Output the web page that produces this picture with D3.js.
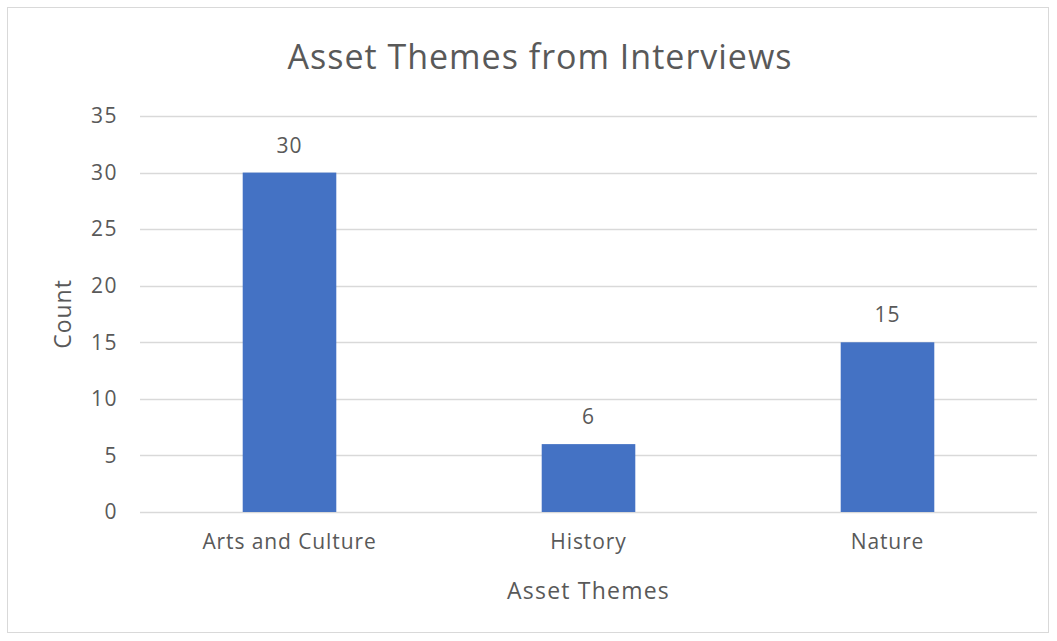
<!DOCTYPE html>
<html>
<head>
<meta charset="utf-8">
<script src="https://cdn.jsdelivr.net/npm/d3@7"></script>
<style>
  html, body { margin: 0; padding: 0; background: #fff; }
  svg { display: block; }
  text { font-family: "Open Sans", Lato, sans-serif; fill: #595959; }
</style>
</head>
<body>
<svg id="chart" width="1057" height="641"></svg>
<script>
// Asset theme counts
const categories = ["Arts and Culture", "History", "Nature"];
const counts = [30, 6, 15];
const yTicks = [0, 5, 10, 15, 20, 25, 30, 35];

const chartTitle = "Asset Themes from Interviews";
const xTitle = "Asset Themes";
const yTitle = "Count";

const svg = d3.select("#chart");
const W = 1057, H = 641;
const plot = { left: 140, right: 1037, top: 116, bottom: 512 };
const FONT = "'Open Sans', Lato, sans-serif";

// chart frame
svg.append("rect")
  .attr("x", 7.5).attr("y", 7.5)
  .attr("width", W - 16).attr("height", H - 16)
  .attr("fill", "#fff").attr("stroke", "#d9d9d9").attr("stroke-width", 1);

const x = d3.scaleBand()
  .domain(categories)
  .range([plot.left, plot.right])
  .paddingInner(0.687)
  .paddingOuter(0.3435);

const y = d3.scaleLinear()
  .domain([0, 35])
  .range([plot.bottom, plot.top]);

// gridlines
svg.append("g")
  .selectAll("line")
  .data(yTicks)
  .join("line")
  .attr("x1", plot.left).attr("x2", plot.right)
  .attr("y1", d => Math.round(y(d)) + 0.5)
  .attr("y2", d => Math.round(y(d)) + 0.5)
  .attr("stroke", "#d9d9d9").attr("stroke-width", 1.5);

// y axis labels
const yAxis = d3.axisLeft(y).tickValues(yTicks).tickSize(0).tickPadding(22);
const gy = svg.append("g").attr("transform", `translate(${plot.left},0)`).call(yAxis);
gy.select(".domain").remove();
gy.selectAll("text").attr("font-size", 21).attr("fill", "#595959")
  .attr("letter-spacing", 1.5)
  .style("font-family", FONT);

// x axis labels
const xAxis = d3.axisBottom(x).tickSize(0).tickPadding(22);
const gx = svg.append("g").attr("transform", `translate(0,${plot.bottom})`).call(xAxis);
gx.select(".domain").remove();
gx.selectAll("text").attr("font-size", 21).attr("fill", "#595959")
  .attr("letter-spacing", 0.9)
  .style("font-family", FONT);

// bars
svg.append("g")
  .selectAll("rect")
  .data(categories)
  .join("rect")
  .attr("x", d => x(d))
  .attr("width", x.bandwidth())
  .attr("y", (d, i) => y(counts[i]))
  .attr("height", (d, i) => y(0) - y(counts[i]))
  .attr("fill", "#4472c4");

// value labels
svg.append("g")
  .selectAll("text")
  .data(categories)
  .join("text")
  .attr("x", d => x(d) + x.bandwidth() / 2)
  .attr("y", (d, i) => y(counts[i]) - 20)
  .attr("text-anchor", "middle")
  .attr("font-size", 21)
  .attr("letter-spacing", 1)
  .text((d, i) => counts[i]);

// titles
svg.append("text")
  .attr("x", 540).attr("y", 69)
  .attr("text-anchor", "middle")
  .attr("font-size", 34)
  .attr("letter-spacing", 1)
  .text(chartTitle);

svg.append("text")
  .attr("x", (plot.left + plot.right) / 2).attr("y", 599)
  .attr("text-anchor", "middle")
  .attr("font-size", 23)
  .attr("letter-spacing", 1.2)
  .text(xTitle);

svg.append("text")
  .attr("transform", `translate(71,${(plot.top + plot.bottom) / 2}) rotate(-90)`)
  .attr("text-anchor", "middle")
  .attr("font-size", 23)
  .attr("letter-spacing", 1)
  .text(yTitle);
</script>
</body>
</html>
